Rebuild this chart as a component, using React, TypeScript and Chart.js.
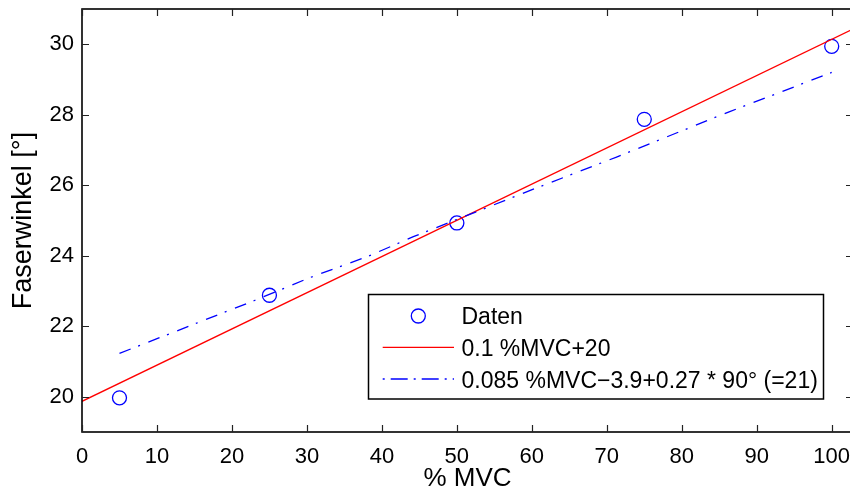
import React, { useEffect, useRef } from "react";
import { Chart, registerables } from "chart.js";

Chart.register(...registerables);

const FONT = "'Liberation Sans', Arial, Helvetica, sans-serif";

// Measured data points
const dataX = [5, 25, 50, 75, 100];
const dataY = [19.97, 22.88, 24.93, 27.87, 29.94];

// Linear model (red)
const redX = [0, 102.84];
const redY = [19.87, 30.43];

// Model with angle (blue dash-dot)
const blueX = [5, 23, 30.4, 38, 44.2, 52.5, 60.7, 71.3, 86.4, 100];
const blueY = [21.23, 22.73, 23.38, 23.97, 24.54, 25.24, 25.93, 26.8, 28.09, 29.2];

const xTicks = [0, 10, 20, 30, 40, 50, 60, 70, 80, 90, 100];
const yTicks = [20, 22, 24, 26, 28, 30];

const legendLabels = ["Daten", "0.1 %MVC+20", "0.085 %MVC\u22123.9+0.27 * 90° (=21)"];

const BLUE = "rgb(0,0,255)";
const RED = "rgb(255,0,0)";
const DASH = [12, 8, 2, 9];

const toPts = (xs: number[], ys: number[]) => xs.map((x, i) => ({ x, y: ys[i] }));

const zeroPad = (s: any) => {
  s.paddingTop = 0;
  s.paddingBottom = 0;
  s.paddingLeft = 0;
  s.paddingRight = 0;
};

const framePlugin = {
  id: "frame",
  afterDatasetsDraw(chart: any) {
    const { ctx, chartArea: a, scales } = chart;
    const xs = scales.x;
    const ys = scales.y;
    ctx.save();
    ctx.strokeStyle = "#000";
    ctx.lineWidth = 1.6;
    ctx.strokeRect(a.left, a.top, a.right - a.left, a.bottom - a.top);
    ctx.lineWidth = 1.2;
    ctx.strokeStyle = "#222";
    const tl = 7;
    ctx.beginPath();
    xTicks.forEach((v) => {
      const px = Math.round(xs.getPixelForValue(v)) + 0.5;
      ctx.moveTo(px, a.bottom);
      ctx.lineTo(px, a.bottom - tl);
      ctx.moveTo(px, a.top);
      ctx.lineTo(px, a.top + tl);
    });
    yTicks.forEach((v) => {
      const py = Math.round(ys.getPixelForValue(v)) + 0.5;
      ctx.moveTo(a.left, py);
      ctx.lineTo(a.left + tl, py);
      ctx.moveTo(a.right, py);
      ctx.lineTo(a.right - tl, py);
    });
    ctx.stroke();

    // Legend
    const bx = 368.5, by = 294.5, bw = 455, bh = 104.5;
    ctx.fillStyle = "#fff";
    ctx.fillRect(bx, by, bw, bh);
    ctx.strokeStyle = "#000";
    ctx.lineWidth = 1.5;
    ctx.strokeRect(bx, by, bw, bh);

    ctx.lineWidth = 1.3;
    ctx.strokeStyle = BLUE;
    ctx.beginPath();
    ctx.arc(418.3, 316, 7, 0, Math.PI * 2);
    ctx.stroke();

    ctx.strokeStyle = RED;
    ctx.beginPath();
    ctx.moveTo(382.7, 347.3);
    ctx.lineTo(454, 347.3);
    ctx.stroke();

    ctx.strokeStyle = BLUE;
    ctx.setLineDash([2, 6, 17, 6]);
    ctx.beginPath();
    ctx.moveTo(382.7, 379);
    ctx.lineTo(454, 379);
    ctx.stroke();
    ctx.setLineDash([]);

    ctx.fillStyle = "#000";
    ctx.font = `23px ${FONT}`;
    ctx.textAlign = "left";
    ctx.textBaseline = "alphabetic";
    ctx.fillText(legendLabels[0], 461.5, 323.5);
    ctx.fillText(legendLabels[1], 461.5, 355.5);
    ctx.fillText(legendLabels[2], 461.5, 387.8);
    ctx.restore();
  },
};

export default function App() {
  const ref = useRef<HTMLCanvasElement>(null);
  useEffect(() => {
    const canvas = ref.current!;
    const chart = new Chart(canvas, {
      type: "line",
      data: {
        datasets: [
          {
            label: legendLabels[2],
            data: toPts(blueX, blueY),
            borderColor: BLUE,
            borderWidth: 1.3,
            borderDash: DASH,
            pointRadius: 0,
            fill: false,
            tension: 0,
          },
          {
            label: legendLabels[1],
            data: toPts(redX, redY),
            borderColor: RED,
            borderWidth: 1.3,
            pointRadius: 0,
            fill: false,
          },
          {
            label: legendLabels[0],
            data: toPts(dataX, dataY),
            showLine: false,
            borderColor: BLUE,
            backgroundColor: "rgba(0,0,0,0)",
            pointRadius: 7,
            pointBorderWidth: 1.3,
            pointBorderColor: BLUE,
            pointBackgroundColor: "rgba(0,0,0,0)",
          },
        ],
      },
      options: {
        responsive: false,
        animation: false,
        layout: { autoPadding: false, padding: { top: 9, left: 0, right: 0, bottom: 0 } },
        plugins: { legend: { display: false }, tooltip: { enabled: false } },
        scales: {
          x: {
            type: "linear",
            min: 0,
            max: 102.84,
            grid: { display: false, drawTicks: false },
            border: { display: false },
            afterBuildTicks: (s: any) => {
              s.ticks = xTicks.map((v) => ({ value: v }));
            },
            afterFit: (s: any) => {
              s.height = 62;
              zeroPad(s);
            },
            ticks: {
              color: "#000",
              padding: 12,
              maxRotation: 0,
              autoSkip: false,
              font: { family: FONT, size: 22 },
              callback: (v: any) => String(v),
            },
            title: {
              display: true,
              text: "% MVC",
              color: "#000",
              font: { family: FONT, size: 26, lineHeight: 1.2 },
              padding: { top: 0, bottom: 0 },
            },
          },
          y: {
            type: "linear",
            min: 19,
            max: 31,
            grid: { display: false, drawTicks: false },
            border: { display: false },
            afterBuildTicks: (s: any) => {
              s.ticks = yTicks.map((v) => ({ value: v }));
            },
            afterFit: (s: any) => {
              s.width = 82;
              zeroPad(s);
            },
            ticks: {
              color: "#000",
              padding: 8,
              autoSkip: false,
              font: { family: FONT, size: 22 },
              callback: (v: any) => String(v),
            },
            title: {
              display: true,
              text: "Faserwinkel [°]",
              color: "#000",
              font: { family: FONT, size: 27, lineHeight: 1.2 },
              padding: { top: 7, bottom: 0 },
            },
          },
        },
      },
      plugins: [framePlugin],
    });
    return () => chart.destroy();
  }, []);
  return (
    <div
      style={{
        position: "absolute",
        left: 0,
        top: 0,
        width: 850,
        height: 494,
        overflow: "hidden",
        background: "#fff",
      }}
    >
      <canvas ref={ref} width={853} height={494} style={{ width: 853, height: 494, display: "block" }} />
    </div>
  );
}
